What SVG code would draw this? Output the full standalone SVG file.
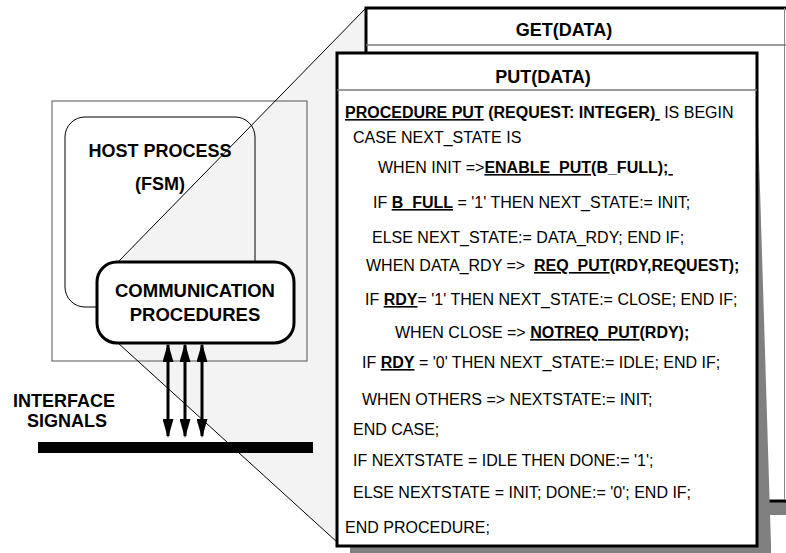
<svg xmlns="http://www.w3.org/2000/svg" width="786" height="553" viewBox="0 0 786 553">
<style>
text{font-family:"Liberation Sans",Arial,sans-serif;fill:#000}
.lbl{font-size:18px;font-weight:bold;text-anchor:middle}
.code{font-size:16px}
.b{font-weight:bold}
.u{text-decoration:underline}
.thin{fill:none;stroke:#000;stroke-width:1}
.shadow{fill:#808080}
</style>
<defs>
<marker id="ah" markerUnits="userSpaceOnUse" markerWidth="19" markerHeight="11" refX="17" refY="5.5" orient="auto-start-reverse">
<path d="M0,0 L19,5.5 L0,11 z" fill="#000"/>
</marker>
</defs>
<polygon id="lens" points="366,8 118,262 118,343 336,541 340,541 340,53 366,53" fill="#f3f3f3"/>
<g id="system">
<rect x="52" y="101" width="255" height="260" fill="none" stroke="#555" stroke-width="1"/>
</g>
<g id="host">
<rect x="65" y="117" width="190" height="190" rx="20" class="thin"/>
<text class="lbl" x="160" y="157">HOST PROCESS</text>
<text class="lbl" x="160" y="190">(FSM)</text>
</g>
<g id="lens-lines">
<line x1="366" y1="8" x2="118" y2="262" stroke="#000" stroke-width="1"/>
<line x1="118" y1="343" x2="337" y2="542" stroke="#000" stroke-width="1"/>
</g>
<g id="comm">
<rect x="97" y="262" width="197" height="81" rx="20" fill="#fff" stroke="#000" stroke-width="3"/>
<text class="lbl" x="195" y="297" style="font-size:18.5px">COMMUNICATION</text>
<text class="lbl" x="195" y="321" style="font-size:18.5px">PROCEDURES</text>
</g>
<g id="connectors">
<line x1="168" y1="345" x2="168" y2="436" stroke="#000" stroke-width="3" marker-start="url(#ah)" marker-end="url(#ah)"/>
<line x1="185" y1="345" x2="185" y2="436" stroke="#000" stroke-width="3" marker-start="url(#ah)" marker-end="url(#ah)"/>
<line x1="202" y1="345" x2="202" y2="436" stroke="#000" stroke-width="3" marker-start="url(#ah)" marker-end="url(#ah)"/>
</g>
<g id="bus">
<rect x="38" y="442" width="275" height="11" fill="#000"/>
<text class="lbl" x="64" y="407">INTERFACE</text>
<text class="lbl" x="67" y="427">SIGNALS</text>
</g>
<g id="get">
<rect class="shadow" x="378" y="20" width="420" height="495"/>
<rect x="366" y="8" width="424" height="493" fill="#fff" stroke="#000" stroke-width="3"/>
<line x1="784.5" y1="8" x2="784.5" y2="500" stroke="#888" stroke-width="1"/>
<line x1="366" y1="45" x2="786" y2="45" stroke="#777" stroke-width="1.5"/>
<text class="lbl" x="564" y="36">GET(DATA)</text>
</g>
<g id="put">
<polygon class="shadow" points="757,92 771,546 771,553 757,553"/>
<rect class="shadow" x="350" y="546" width="421" height="7"/>
<rect x="337" y="53" width="420" height="493" fill="#fff" stroke="#000" stroke-width="3"/>
<line x1="337" y1="90" x2="757" y2="90" stroke="#777" stroke-width="1.5"/>
<text class="lbl" x="543" y="83">PUT(DATA)</text>
<text class="code" x="345" y="118"><tspan class="b u">PROCEDURE PUT</tspan><tspan class="b"> (REQUEST: INTEGER)</tspan><tspan class="u">&#160;</tspan> IS BEGIN</text>
<text class="code" x="353" y="143">CASE NEXT_STATE IS</text>
<text class="code" x="378" y="173">WHEN INIT =&gt;<tspan class="b u">ENABLE_PUT</tspan><tspan class="b">(B_FULL);</tspan><tspan class="u">&#160;</tspan></text>
<text class="code" x="373" y="208">IF <tspan class="b u">B_FULL</tspan> = '1' THEN NEXT_STATE:= INIT;</text>
<text class="code" x="372" y="243">ELSE NEXT_STATE:= DATA_RDY; END IF;</text>
<text class="code" x="366" y="271">WHEN DATA_RDY =&gt; &#160;<tspan class="b u">REQ_PUT</tspan><tspan class="b">(RDY,REQUEST);</tspan></text>
<text class="code" x="365" y="305">IF <tspan class="b u">RDY</tspan>= '1' THEN NEXT_STATE:= CLOSE; END IF;</text>
<text class="code" x="395" y="338">WHEN CLOSE =&gt; <tspan class="b u">NOTREQ_PUT</tspan><tspan class="b">(RDY);</tspan></text>
<text class="code" x="362" y="368">IF <tspan class="b u">RDY</tspan> = '0' THEN NEXT_STATE:= IDLE; END IF;</text>
<text class="code" x="362" y="405">WHEN OTHERS =&gt; NEXTSTATE:= INIT;</text>
<text class="code" x="353" y="435">END CASE;</text>
<text class="code" x="353" y="466">IF NEXTSTATE = IDLE THEN DONE:= '1';</text>
<text class="code" x="353" y="498">ELSE NEXTSTATE = INIT; DONE:= '0'; END IF;</text>
<text class="code" x="345" y="533">END PROCEDURE;</text>
</g>
</svg>
